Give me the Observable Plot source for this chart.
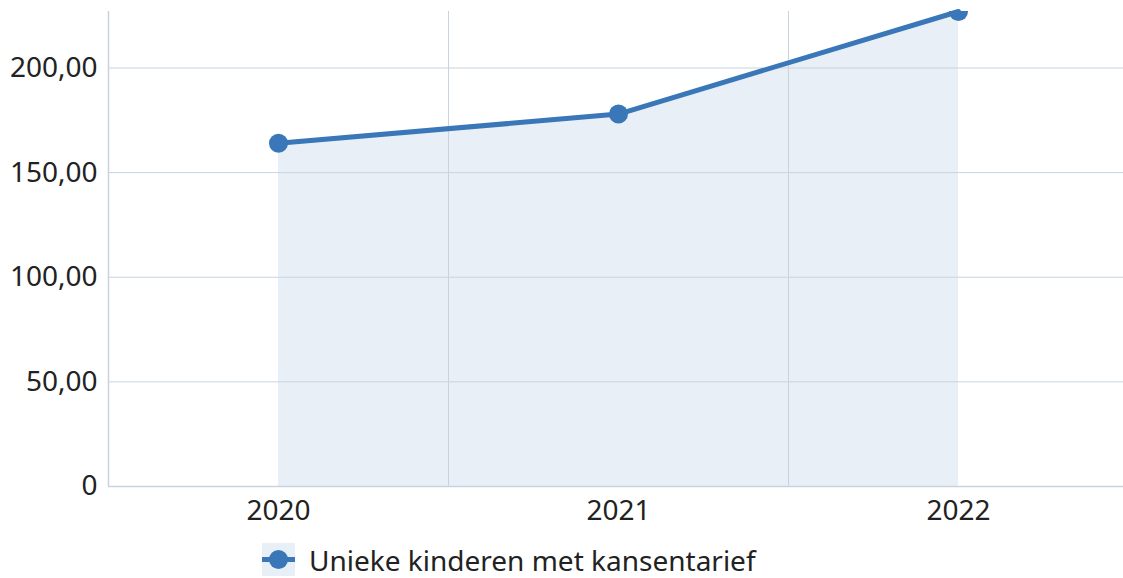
<!DOCTYPE html>
<html>
<head>
<meta charset="utf-8">
<script src="https://cdn.jsdelivr.net/npm/d3@7"></script>
<script src="https://cdn.jsdelivr.net/npm/@observablehq/plot@0.6"></script>
<style>
  html, body { margin: 0; padding: 0; background: #fff; overflow: hidden; width: 1123px; height: 578px; }
  #chart { width: 1128px; overflow: visible; }
  #chart svg { display: block; max-width: none !important; }
  #legend { position: absolute; left: 0; top: 530px; width: 1123px; height: 48px; font-family: "Segoe UI", "Noto Sans", "Open Sans", sans-serif; font-size: 28px; line-height: 30px; color: #222; }
  #legend .item { position: absolute; left: 262px; top: 13px; display: flex; align-items: center; }
  #legend .sw { width: 33px; height: 33px; background: #e8eff7; position: relative; margin-right: 14px; }
  #legend .sw .ln { position: absolute; left: 0; top: 14px; width: 33px; height: 5px; background: #3a77b8; }
  #legend .sw .dt { position: absolute; left: 7px; top: 7px; width: 19px; height: 19px; border-radius: 50%; background: #3a77b8; }
  #legend span { display: block; line-height: 30px; }
</style>
</head>
<body>
<div id="chart"></div>
<div id="legend"><div class="item"><div class="sw"><div class="ln"></div><div class="dt"></div></div><span id="legtext"></span></div></div>
<script>
const years = [2020, 2021, 2022];
const values = [164, 178, 227];
const yTicks = [0, 50, 100, 150, 200];
const seriesName = "Unieke kinderen met kansentarief";

const data = years.map((y, i) => ({year: y, value: values[i]}));
const fmt = d => d === 0 ? "0" : d.toFixed(2).replace(".", ",");
const gridColor = "#c9d3df";
const lineColor = "#3a77b8";

document.getElementById("legtext").textContent = seriesName;

const chart = Plot.plot({
  width: 1128,
  height: 530,
  marginLeft: 108,
  marginRight: 0,
  marginTop: 11,
  marginBottom: 44,
  style: {fontFamily: "'Segoe UI', 'Noto Sans', 'Open Sans', sans-serif", fontSize: "28px", color: "#222", background: "#fff", maxWidth: "none"},
  x: {domain: [years[0] - 0.5, years[years.length - 1] + 0.5], ticks: years, tickFormat: d => String(d), tickSize: 0, tickPadding: 14, label: null},
  y: {domain: [0, 227], ticks: yTicks, tickFormat: fmt, tickSize: 0, tickPadding: 11, label: null},
  marks: [
    Plot.areaY(data, {x: "year", y: "value", fill: "#e8eff7"}),
    Plot.ruleY(yTicks.filter(d => d > 0), {stroke: gridColor, strokeWidth: 1}),
    Plot.ruleX(years.slice(0, -1).map(y => y + 0.5), {stroke: gridColor, strokeWidth: 1}),
    Plot.ruleY([0], {stroke: gridColor, strokeWidth: 1.5}),
    Plot.ruleX([years[0] - 0.5], {stroke: gridColor, strokeWidth: 1.5}),
    Plot.line(data, {x: "year", y: "value", stroke: lineColor, strokeWidth: 5}),
    Plot.dot(data, {x: "year", y: "value", r: 9.5, fill: lineColor, stroke: "none", clip: true})
  ]
});
document.getElementById("chart").appendChild(chart);
</script>
</body>
</html>
